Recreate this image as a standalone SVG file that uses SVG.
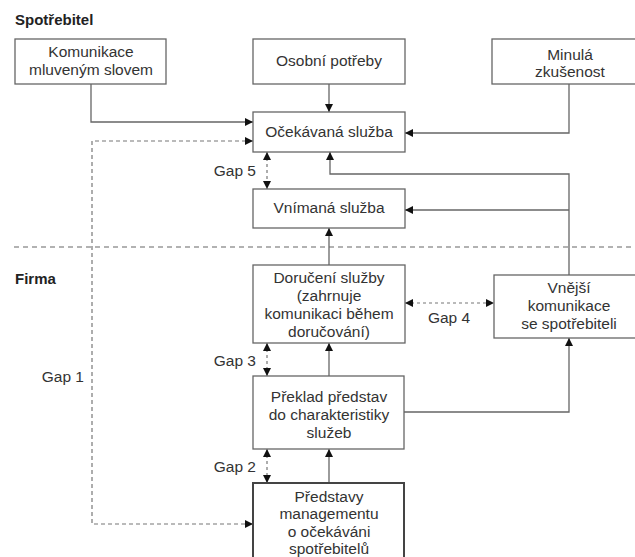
<svg xmlns="http://www.w3.org/2000/svg" width="635" height="557" viewBox="0 0 635 557">
<style>
.box{fill:#fff;stroke:#666;stroke-width:1.3}
.thick{fill:#fff;stroke:#444;stroke-width:2}
.t{font-family:"Liberation Sans",Arial,sans-serif;font-size:15.5px;fill:#333;text-anchor:middle}
.g{font-family:"Liberation Sans",Arial,sans-serif;font-size:15.5px;fill:#333;text-anchor:end}
.h{font-family:"Liberation Sans",Arial,sans-serif;font-size:15px;font-weight:bold;fill:#222}
.ln{fill:none;stroke:#666;stroke-width:1.3;marker-end:url(#a)}
.dd{fill:none;stroke:#777;stroke-width:1.2;stroke-dasharray:3,3;marker-start:url(#s);marker-end:url(#a)}
.dl{fill:none;stroke:#777;stroke-width:1.2;stroke-dasharray:4,3;marker-start:url(#s);marker-end:url(#a)}
</style>
<defs>
<marker id="a" markerWidth="10" markerHeight="10" refX="9" refY="5" orient="auto" markerUnits="userSpaceOnUse">
<path d="M1,1 L9,5 L1,9 Z" fill="#111"/>
</marker>
<marker id="s" markerWidth="10" markerHeight="10" refX="1" refY="5" orient="auto" markerUnits="userSpaceOnUse">
<path d="M9,1 L1,5 L9,9 Z" fill="#111"/>
</marker>
</defs>
<rect width="635" height="557" fill="#fff"/>
<text class="h" x="15" y="25">Spotřebitel</text>
<text class="h" x="15" y="284">Firma</text>
<line x1="14" y1="247" x2="635" y2="247" stroke="#666" stroke-width="1.2" stroke-dasharray="5,4"/>
<g id="connectors">
<path class="ln" d="M91,84 V122 H253"/>
<path class="ln" d="M329,84 V112"/>
<path class="ln" d="M569,84 V133 H405"/>
<path class="ln" d="M569,275 V174 H330 V152"/>
<path class="ln" d="M569,210 H405"/>
<path class="ln" d="M329,265 V228"/>
<path class="ln" d="M329,376 V343"/>
<path class="ln" d="M404,412 H569 V338"/>
<path class="ln" d="M329,483 V449"/>
<path class="dl" d="M253,141 H92 V524 H253"/>
<path class="dd" d="M267,152 V189"/>
<path class="dd" d="M267,343 V376"/>
<path class="dd" d="M267,449 V483"/>
<path class="dd" d="M405,303 H494"/>
<text class="g" x="256" y="176">Gap 5</text>
<text class="g" x="256" y="366">Gap 3</text>
<text class="g" x="256" y="472">Gap 2</text>
<text class="g" x="84" y="382">Gap 1</text>
<text class="t" x="449" y="323">Gap 4</text>
</g>
<g id="komunikace">
<rect class="box" x="15" y="39" width="151" height="45"/>
<text class="t" x="91" y="57">Komunikace</text>
<text class="t" x="91" y="75">mluveným slovem</text>
</g>
<g id="osobni">
<rect class="box" x="253" y="39" width="152" height="45"/>
<text class="t" x="329" y="66">Osobní potřeby</text>
</g>
<g id="minula">
<rect class="box" x="492" y="39" width="150" height="45"/>
<text class="t" x="570" y="60">Minulá</text>
<text class="t" x="570" y="77">zkušenost</text>
</g>
<g id="ocekavana">
<rect class="box" x="253" y="112" width="152" height="40"/>
<text class="t" x="329" y="137">Očekávaná služba</text>
</g>
<g id="vnimana">
<rect class="box" x="253" y="189" width="152" height="39"/>
<text class="t" x="329" y="213">Vnímaná služba</text>
</g>
<g id="doruceni">
<rect class="box" x="253" y="265" width="152" height="78"/>
<text class="t" x="329" y="283">Doručení služby</text>
<text class="t" x="329" y="301">(zahrnuje</text>
<text class="t" x="329" y="319">komunikaci během</text>
<text class="t" x="329" y="337">doručování)</text>
</g>
<g id="vnejsi">
<rect class="box" x="494" y="275" width="150" height="63"/>
<text class="t" x="569" y="293">Vnější</text>
<text class="t" x="569" y="311">komunikace</text>
<text class="t" x="569" y="329">se spotřebiteli</text>
</g>
<g id="preklad">
<rect class="box" x="253" y="376" width="151" height="73"/>
<text class="t" x="329" y="402">Překlad představ</text>
<text class="t" x="329" y="420">do charakteristiky</text>
<text class="t" x="329" y="438">služeb</text>
</g>
<g id="predstavy">
<rect class="thick" x="253" y="483" width="151" height="80"/>
<text class="t" x="329" y="502">Představy</text>
<text class="t" x="329" y="519">managementu</text>
<text class="t" x="329" y="537">o očekáváni</text>
<text class="t" x="329" y="554">spotřebitelů</text>
</g>
</svg>
